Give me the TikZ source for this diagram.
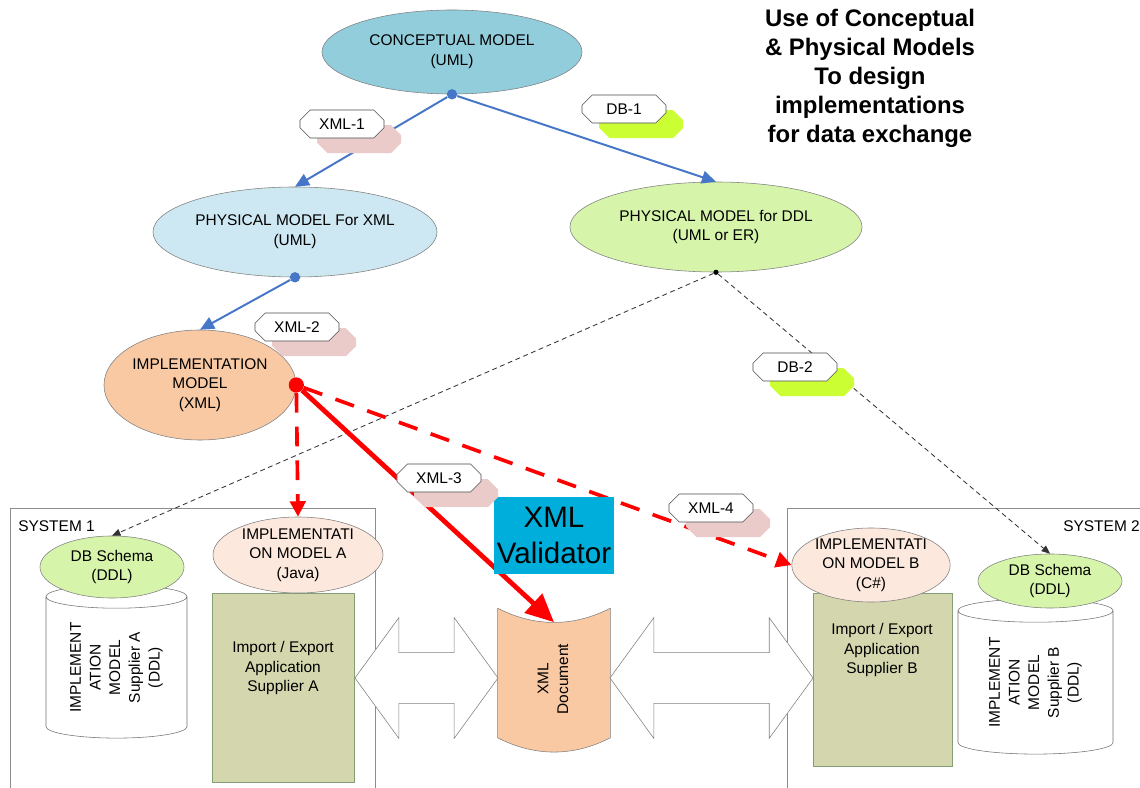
\documentclass[tikz,border=0pt]{standalone}
\usepackage{fontspec}
\setmainfont{Liberation Sans}
\usepackage{xcolor}
\definecolor{conceptblue}{RGB}{146,205,220}
\definecolor{xmlblue}{RGB}{205,232,242}
\definecolor{ddlgreen}{RGB}{214,245,170}
\definecolor{implorange}{RGB}{249,201,164}
\definecolor{implpale}{RGB}{252,232,220}
\definecolor{appolive}{RGB}{212,214,174}
\definecolor{appedge}{RGB}{130,160,115}
\definecolor{valcyan}{RGB}{0,174,219}
\definecolor{linkblue}{RGB}{70,118,200}
\definecolor{shadepink}{RGB}{235,202,202}
\definecolor{shadelime}{RGB}{204,255,51}
\usepackage{tikz}
\usetikzlibrary{arrows.meta,shapes.geometric,shapes.misc,shapes.arrows,shadows,calc}

\tikzset{
  model/.style={ellipse, draw=black!50, inner sep=0pt, align=center, font=\fontsize{11}{14}\selectfont},
  tag/.style={chamfered rectangle, chamfered rectangle xsep=8pt, draw=black!70, fill=white,
    minimum width=2.1cm, minimum height=0.7cm, inner sep=0pt, font=\fontsize{11}{13}\selectfont},
  xmltag/.style={tag, drop shadow={shadow xshift=0.43cm, shadow yshift=-0.38cm, fill=shadepink, opacity=1}},
  dbtag/.style={tag, drop shadow={shadow xshift=0.43cm, shadow yshift=-0.38cm, fill=shadelime, opacity=1}},
  sysbox/.style={rectangle, draw=black!45, inner sep=0pt},
  systext/.style={anchor=west, inner sep=0pt, font=\fontsize{11}{13}\selectfont},
  appbox/.style={rectangle, draw=appedge, fill=appolive, inner sep=0pt},
  apptext/.style={align=center, inner sep=0pt, font=\fontsize{11}{14}\selectfont},
  store/.style={cylinder, rotate=90, draw=black!55, fill=white, aspect=0.25, inner sep=0pt,
    align=center, font=\fontsize{11}{14}\selectfont},
  docbox/.style={rectangle, inner sep=0pt},
  dblarrow/.style={double arrow, draw=black!50, fill=white, inner xsep=0pt, inner ysep=0.625cm,
    double arrow head extend=0.875cm, double arrow tip angle=108},
  bluedot/.style={circle, fill=linkblue, inner sep=0pt, minimum size=0.26cm},
  reddot/.style={circle, fill=red, inner sep=0pt, minimum size=0.38cm},
  blackdot/.style={circle, fill=black, inner sep=0pt, minimum size=0.13cm},
  bluelink/.style={draw=linkblue, line width=1.4pt, -{Triangle[length=10pt,width=9pt]}},
  dblink/.style={draw=black!80, line width=0.6pt, dash pattern=on 3.5pt off 2.5pt, -{Triangle[length=6pt,width=5pt]}},
  impllink/.style={draw=red, line width=2.6pt, dash pattern=on 14pt off 10pt, -{Triangle[length=11pt,width=11pt]}},
  vallink/.style={draw=red, line width=3.4pt, -{Triangle[length=20pt,width=18pt]}}
}

\begin{document}
\begin{tikzpicture}[x=0.025cm,y=-0.025cm]
  \useasboundingbox (0,0) rectangle (1140,788);
  % the two systems
  \node[sysbox, minimum width=9.125cm, minimum height=7.3cm] (sys1) at (192.5,654) {};
  \node[sysbox, minimum width=9.075cm, minimum height=7.3cm] (sys2) at (968.5,654) {};
  \node[systext] (sys1lbl) at (18,526) {SYSTEM 1};
  \node[systext] (sys2lbl) at (1063,526) {SYSTEM 2};

  % applications
  \node[appbox, minimum width=3.55cm, minimum height=4.725cm] (appA) at (283,687.5) {};
  \node[apptext] (appAtxt) at (283,668) {Import / Export\\Application\\Supplier A};
  \node[appbox, minimum width=3.475cm, minimum height=4.325cm] (appB) at (882.5,679.5) {};
  \node[apptext] (appBtxt) at (882,650) {Import / Export\\Application\\Supplier B};

  % databases
  \node[store, minimum width=3.525cm, minimum height=3.825cm] (storeA) at (116.5,667.5)
    {IMPLEMENT\\ATION\\MODEL\\Supplier A\\(DDL)};
  \node[store, minimum width=3.875cm, minimum height=3.875cm] (storeB) at (1035.5,682.5)
    {IMPLEMENT\\ATION\\MODEL\\Supplier B\\(DDL)};
  \node[model, fill=ddlgreen, minimum width=3.6cm, minimum height=1.55cm] (db1) at (112,567) {DB Schema\\(DDL)};
  \node[model, fill=ddlgreen, minimum width=3.6cm, minimum height=1.35cm] (db2) at (1050,581) {DB Schema\\(DDL)};

  % the xml document
  \node[docbox, minimum width=2.8cm, minimum height=3.225cm] (doc) at (554,673) {};
  \filldraw[fill=implorange, draw=black!50] (doc.north west) .. controls +(37,19) and +(-37,19) .. (doc.north east)
    -- (doc.south east) .. controls +(-37,19) and +(37,19) .. (doc.south west) -- cycle;
  \node[rotate=90, apptext] (doclbl) at (553,679) {XML\\Document};
  \coordinate (doctop) at ($(doc.north)+(0,14)$);

  \node[dblarrow, minimum height=3.575cm] (xchgA) at (426.5,678) {};
  \node[dblarrow, minimum height=5.075cm] (xchgB) at (711.5,678) {};

  % models
  \node[model, fill=conceptblue, minimum width=6.5cm, minimum height=2.1cm] (concept) at (452,52) {CONCEPTUAL MODEL\\(UML)};
  \node[model, fill=xmlblue, minimum width=7.1cm, minimum height=2.25cm, inner xsep=-5pt] (physxml) at (295,232) {PHYSICAL MODEL For XML\\(UML)};
  \node[model, fill=ddlgreen, minimum width=7.3cm, minimum height=2.25cm, inner xsep=-5pt] (physddl) at (716,227) {PHYSICAL MODEL for DDL\\(UML or ER)};
  \node[model, fill=implorange, minimum width=4.8cm, minimum height=2.75cm] (implxml) at (200,385) {IMPLEMENTATION\\MODEL\\(XML)};
  \node[model, fill=implpale, minimum width=4.25cm, minimum height=1.9cm, inner ysep=-4pt] (implA) at (298,555) {IMPLEMENTATI\\ON MODEL A\\(Java)};
  \node[model, fill=implpale, minimum width=3.8cm, minimum height=1.85cm, inner ysep=-4pt] (implB) at (871,565) {IMPLEMENTATI\\ON MODEL B\\(C\#)};

  \node[font=\fontsize{17}{20.6}\selectfont\bfseries, align=center] (title) at (870,78)
    {Use of Conceptual\\\& Physical Models\\To design\\implementations\\for data exchange};

  % dots
  \node[bluedot] (cdot) at (concept.south) {};
  \node[bluedot] (xdot) at (physxml.south) {};
  \node[blackdot] (ddot) at (physddl.south) {};
  \node[reddot] (rdot) at (implxml.east) {};

  % connectors
  \draw[dblink] (ddot) -- (db1.north);
  \draw[dblink] (ddot) -- (db2.north);
  \draw[bluelink] (cdot) -- (physxml.north);
  \draw[bluelink] (cdot) -- (physddl.north);
  \draw[bluelink] (xdot) -- (implxml.north);
  \draw[impllink] (rdot) -- (implA.north);
  \draw[impllink] (rdot) -- (implB.west);
  \draw[vallink] (rdot) -- (doctop);

  \node[fill=valcyan, minimum width=3cm, minimum height=1.925cm, inner sep=0pt, align=center,
    font=\fontsize{21}{26}\selectfont] (val) at (554,535.5) {XML\\Validator};

  % tags
  \node[xmltag] (xml1) at (342,124) {XML-1};
  \node[dbtag] (db1tag) at (624,109) {DB-1};
  \node[xmltag] (xml2) at (297,327) {XML-2};
  \node[dbtag] (db2tag) at (795,367) {DB-2};
  \node[xmltag] (xml3) at (439,478) {XML-3};
  \node[xmltag] (xml4) at (711,508) {XML-4};
\end{tikzpicture}
\end{document}
